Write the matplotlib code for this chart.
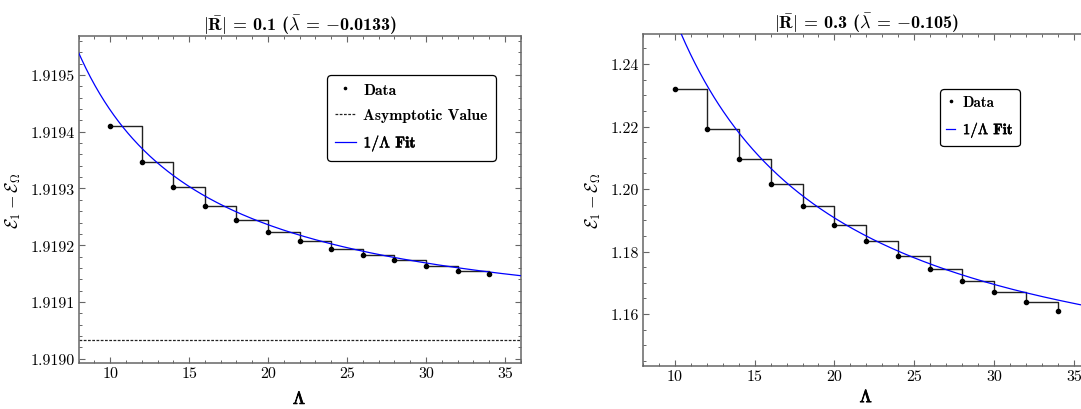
import matplotlib
matplotlib.use("Agg")
import matplotlib.pyplot as plt
import matplotlib.patheffects as pe
import numpy as np
from matplotlib.ticker import FixedLocator, AutoMinorLocator, MultipleLocator
from matplotlib.font_manager import FontProperties
from matplotlib.lines import Line2D

plt.rcParams['font.family'] = 'cmr10'
plt.rcParams['mathtext.fontset'] = 'cm'
plt.rcParams['axes.formatter.use_mathtext'] = True

# ---------------- data ----------------
lam = [10, 12, 14, 16, 18, 20, 22, 24, 26, 28, 30, 32, 34]
left_vals = [1.919410, 1.919347, 1.919303, 1.919269, 1.919245, 1.919224, 1.919208,
             1.919194, 1.919182, 1.919174, 1.919164, 1.919155, 1.919149]
right_vals = [1.2319, 1.2192, 1.2097, 1.2016, 1.1946, 1.1886, 1.1834,
              1.1787, 1.1745, 1.1706, 1.1671, 1.1639, 1.1610]
left_asymptote = 1.919033
left_fit = (1.919034, 0.004042)     # a + b / Lambda
right_fit = (1.12694, 1.2765)

xticks = [10, 15, 20, 25, 30, 35]
left_yticks = [1.9190, 1.9191, 1.9192, 1.9193, 1.9194, 1.9195]
left_yticklabels = ['1.9190', '1.9191', '1.9192', '1.9193', '1.9194', '1.9195']
right_yticks = [1.16, 1.18, 1.20, 1.22, 1.24]
right_yticklabels = ['1.16', '1.18', '1.20', '1.22', '1.24']
titles = [r'$|\bar{\mathbf{R}}|$ = 0.1 ($\bar{\lambda}$ = $-$0.0133)',
          r'$|\bar{\mathbf{R}}|$ = 0.3 ($\bar{\lambda}$ = $-$0.105)']

W, H = 1081, 410
fig = plt.figure(figsize=(W / 100, H / 100), dpi=100)

def px_axes(l, t, r, b):
    return fig.add_axes([l / W, (H - b) / H, (r - l) / W, (b - t) / H])

axL = px_axes(78.6, 37.3, 520.7, 364.3)
axR = px_axes(642.8, 35.0, 1090.0, 366.7)

frame_col = '#666666'
bold_fx = [pe.withStroke(linewidth=0.6, foreground='black')]

def style(ax, yticks, ylabels, ylim, yminor, xpad):
    ax.set_xlim(8, 36)
    ax.set_ylim(*ylim)
    ax.xaxis.set_major_locator(FixedLocator(xticks))
    ax.set_xticklabels([str(t) for t in xticks])
    ax.xaxis.set_minor_locator(MultipleLocator(1))
    ax.yaxis.set_major_locator(FixedLocator(yticks))
    ax.set_yticklabels(ylabels)
    ax.yaxis.set_minor_locator(AutoMinorLocator(yminor))
    ax.tick_params(which='both', direction='in', top=True, right=True,
                   color=frame_col, labelsize=11.5, pad=2.5)
    ax.tick_params(which='major', length=4, width=0.8)
    ax.tick_params(which='minor', length=2.2, width=0.7)
    for s in ax.spines.values():
        s.set_color(frame_col)
        s.set_linewidth(1.1)
    xl = ax.set_xlabel(r'$\Lambda$', fontsize=12.5, labelpad=xpad)
    xl.set_path_effects(bold_fx)
    ax.set_ylabel(r'$\mathcal{E}_1 - \mathcal{E}_\Omega$', fontsize=12.5, labelpad=6)

def draw(ax, vals, fit):
    ax.step(lam, vals, where='post', color='#222222', lw=1.0, zorder=2)
    ax.plot(lam, vals, 'o', ms=3.0, color='black', zorder=4)
    xs = np.linspace(7.5, 37, 400)
    ax.plot(xs, fit[0] + fit[1] / xs, color='#0000ff', lw=0.9, zorder=3)

def make_legend(ax, handles, labels, anchor, hlen, size, bpad):
    leg = ax.legend(handles, labels, loc='upper left', bbox_to_anchor=anchor,
                    borderaxespad=0, prop=FontProperties(family='cmb10', size=size),
                    handlelength=hlen, handletextpad=0.5, labelspacing=0.72,
                    borderpad=bpad, fancybox=True, framealpha=1, edgecolor='black')
    leg.get_frame().set_linewidth(0.9)
    leg.get_frame().set_boxstyle('round,pad=0,rounding_size=0.25')
    leg.get_texts()[-1].set_path_effects([pe.withStroke(linewidth=0.35, foreground='black')])
    return leg

# left panel
draw(axL, left_vals, left_fit)
axL.axhline(left_asymptote, color='#222222', lw=0.9, ls=(0, (2.2, 1.2)), zorder=2)
style(axL, left_yticks, left_yticklabels, (1.918992, 1.919568), 5, 7.5)
axL.set_title(titles[0], fontsize=13, pad=4, fontfamily='cmb10')
hL = [Line2D([], [], marker='o', ms=1.6, ls='none', color='black'),
      Line2D([], [], color='#222222', lw=0.9, ls=(0, (2.2, 1.2))),
      Line2D([], [], color='#0000ff', lw=0.9)]
make_legend(axL, hL, ['Data', 'Asymptotic Value', r'$1/\Lambda$ Fit'],
            (0.5626, 0.8817), 1.3, 11.3, 0.5)

# right panel
draw(axR, right_vals, right_fit)
style(axR, right_yticks, right_yticklabels, (1.1435, 1.2496), 4, 4.5)
axR.set_title(titles[1], fontsize=13, pad=3, fontfamily='cmb10')
hR = [Line2D([], [], marker='o', ms=1.6, ls='none', color='black'),
      Line2D([], [], color='#0000ff', lw=0.9)]
make_legend(axR, hR, ['Data', r'$1/\Lambda$ Fit'], (0.6646, 0.8342), 0.6, 10.8, 0.42)

fig.savefig('out.png', dpi=100)
